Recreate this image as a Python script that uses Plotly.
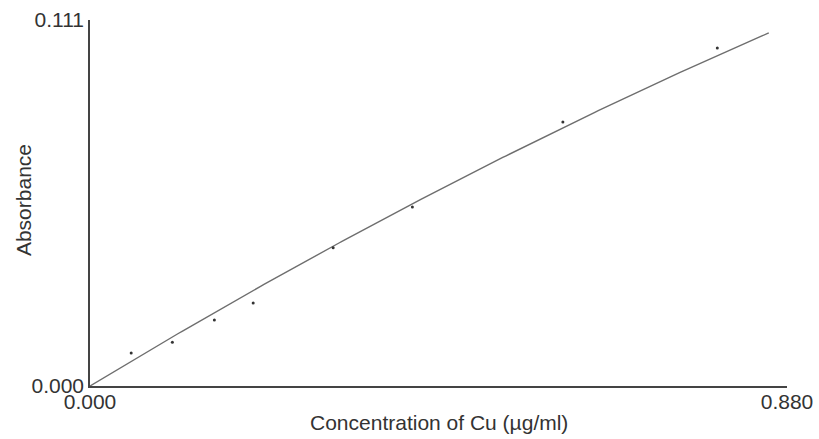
import numpy as np
import plotly.graph_objects as go

# Data
conc = [0.052, 0.104, 0.157, 0.206, 0.307, 0.407, 0.597, 0.792]   # µg/ml
absorb = [0.0100, 0.0133, 0.0200, 0.0252, 0.0419, 0.0543, 0.0801, 0.1025]

# Calibration curve (quadratic through origin)
fit_a = 0.1455
fit_b = -0.0240
fit_xmax = 0.857

x_range = [0.0, 0.880]
y_range = [0.0, 0.111]
x_ticks = [0.0, 0.880]
x_ticktext = ["0.000", "0.880"]
y_ticks = [0.0, 0.111]
y_ticktext = ["0.000", "0.111"]

x_title = "Concentration of Cu (µg/ml)"
y_title = "Absorbance"

xc = np.linspace(0, fit_xmax, 200)
yc = fit_a * xc + fit_b * xc ** 2

fig = go.Figure()
fig.add_trace(go.Scatter(x=xc, y=yc, mode="lines",
                         line=dict(color="#6e6e6e", width=1.4),
                         hoverinfo="skip", showlegend=False))
fig.add_trace(go.Scatter(x=conc, y=absorb, mode="markers",
                         marker=dict(color="#333333", size=3),
                         showlegend=False, cliponaxis=False))

font = dict(family="Liberation Sans, Arial, sans-serif", size=21, color="#333333")

fig.update_layout(
    width=819, height=439,
    margin=dict(l=90, r=32, t=20, b=53),
    paper_bgcolor="white", plot_bgcolor="white",
    font=font,
    showlegend=False,
    annotations=[
        dict(text=x_title, xref="paper", yref="paper", x=0.5007, y=-0.101,
             xanchor="center", yanchor="middle", showarrow=False,
             font=dict(size=21)),
        dict(text=y_title, xref="paper", yref="paper", x=-0.0961, y=0.508,
             xanchor="center", yanchor="middle", showarrow=False,
             textangle=-90, font=dict(size=21)),
    ],
)
fig.update_xaxes(
    range=x_range, tickvals=x_ticks, ticktext=x_ticktext,
    showgrid=False, zeroline=False, showline=True, automargin=False,
    linecolor="#444444", linewidth=1.5, ticks="", ticklabelstandoff=-4,
)
fig.update_yaxes(
    range=y_range, tickvals=y_ticks, ticktext=y_ticktext,
    showgrid=False, zeroline=False, showline=True, automargin=False,
    linecolor="#444444", linewidth=1.5, ticks="",
)

fig.write_html("out.html")
